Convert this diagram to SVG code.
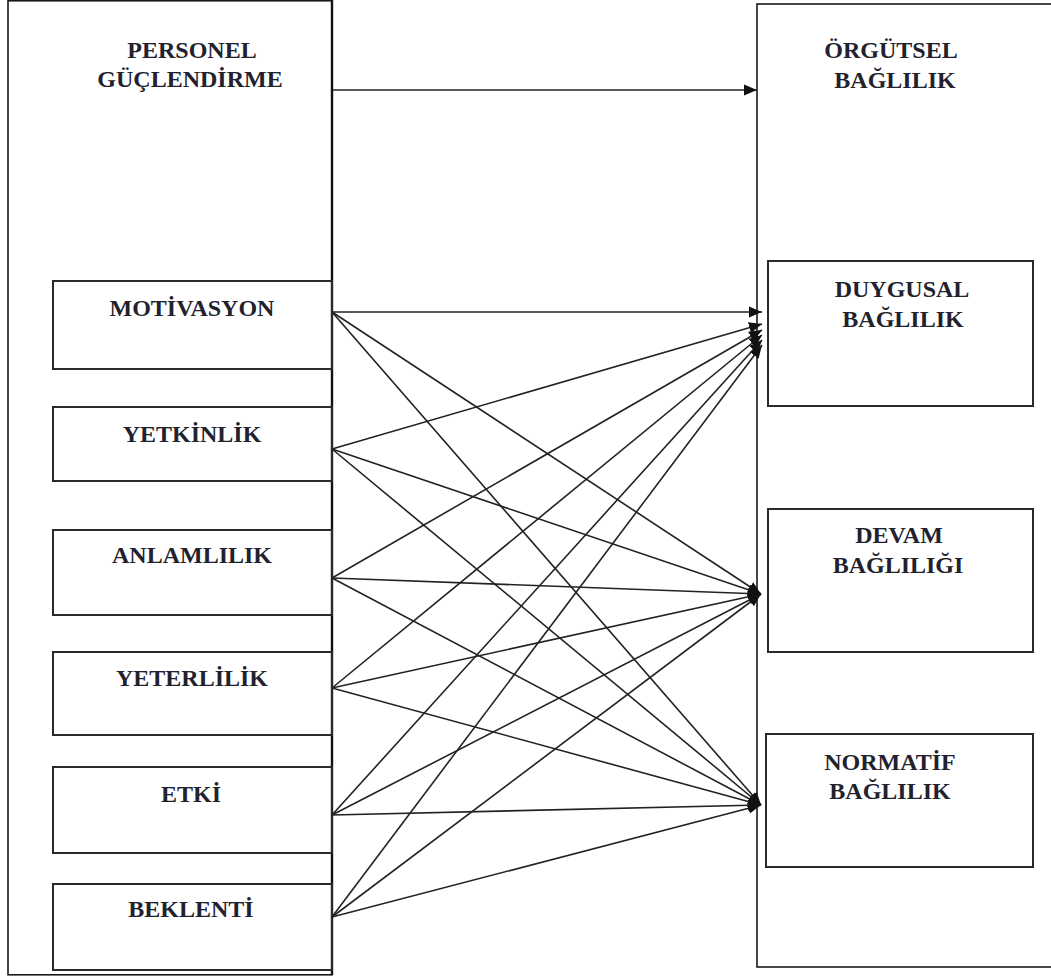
<svg xmlns="http://www.w3.org/2000/svg" width="1051" height="977" viewBox="0 0 1051 977">
<defs>
<style>
.box{fill:none;stroke:#2a2a2a;stroke-width:2}
.outer{fill:none;stroke:#1a1a1a;stroke-width:1.6}
.lbl{font-family:"Liberation Serif","Times New Roman",serif;font-size:24px;font-weight:bold;fill:#22222e;text-anchor:middle}
.conn line{stroke:#222;stroke-width:1.6;marker-end:url(#ah)}
</style>
<marker id="ah" markerUnits="userSpaceOnUse" markerWidth="16" markerHeight="12" refX="13" refY="6" orient="auto">
<path d="M0,0.5 L13,6 L0,11.5 z" fill="#111"/>
</marker>
</defs>
<rect width="1051" height="977" fill="#fff"/>
<g id="personel-guclendirme">
<rect class="outer" x="8" y="0.8" width="324" height="974"/>
<line x1="332" y1="0" x2="332" y2="975" stroke="#111" stroke-width="2.4"/>
<text class="lbl" x="192" y="58">PERSONEL</text>
<text class="lbl" x="190" y="87">GÜÇLENDİRME</text>
</g>
<g id="orgutsel-baglilik">
<rect class="outer" x="757" y="4" width="310" height="963"/>
<text class="lbl" x="891" y="58">ÖRGÜTSEL</text>
<text class="lbl" x="895" y="88">BAĞLILIK</text>
</g>
<g id="motivasyon">
<rect class="box" x="53" y="281" width="279" height="88"/>
<text class="lbl" x="192" y="316">MOTİVASYON</text>
</g>
<g id="yetkinlik">
<rect class="box" x="53" y="407" width="279" height="74"/>
<text class="lbl" x="192" y="442">YETKİNLİK</text>
</g>
<g id="anlamlilik">
<rect class="box" x="53" y="530" width="279" height="85"/>
<text class="lbl" x="192" y="563">ANLAMLILIK</text>
</g>
<g id="yeterlilik">
<rect class="box" x="53" y="652" width="279" height="83"/>
<text class="lbl" x="192" y="686">YETERLİLİK</text>
</g>
<g id="etki">
<rect class="box" x="53" y="767" width="279" height="86"/>
<text class="lbl" x="191" y="802">ETKİ</text>
</g>
<g id="beklenti">
<rect class="box" x="53" y="884" width="279" height="86"/>
<text class="lbl" x="191" y="917">BEKLENTİ</text>
</g>
<g id="duygusal">
<rect class="box" x="768" y="261" width="265" height="145"/>
<text class="lbl" x="902" y="297">DUYGUSAL</text>
<text class="lbl" x="903" y="327">BAĞLILIK</text>
</g>
<g id="devam">
<rect class="box" x="768" y="509" width="265" height="143"/>
<text class="lbl" x="899" y="543">DEVAM</text>
<text class="lbl" x="898" y="573">BAĞLILIĞI</text>
</g>
<g id="normatif">
<rect class="box" x="766" y="734" width="267" height="133"/>
<text class="lbl" x="890" y="770">NORMATİF</text>
<text class="lbl" x="890" y="799">BAĞLILIK</text>
</g>
<g id="connectors" class="conn">
<line x1="333" y1="90" x2="757" y2="90"/>
<line x1="332" y1="312" x2="762" y2="312"/>
<line x1="332" y1="312" x2="761" y2="594"/>
<line x1="332" y1="312" x2="761" y2="805"/>
<line x1="332" y1="449" x2="762" y2="324"/>
<line x1="332" y1="449" x2="761" y2="594"/>
<line x1="332" y1="449" x2="761" y2="805"/>
<line x1="332" y1="578" x2="762" y2="330"/>
<line x1="332" y1="578" x2="761" y2="594"/>
<line x1="332" y1="578" x2="761" y2="805"/>
<line x1="332" y1="688" x2="762" y2="335"/>
<line x1="332" y1="688" x2="761" y2="594"/>
<line x1="332" y1="688" x2="761" y2="805"/>
<line x1="332" y1="815" x2="762" y2="340"/>
<line x1="332" y1="815" x2="761" y2="594"/>
<line x1="332" y1="815" x2="761" y2="805"/>
<line x1="332" y1="917" x2="762" y2="345"/>
<line x1="332" y1="917" x2="761" y2="594"/>
<line x1="332" y1="917" x2="761" y2="805"/>
</g>
</svg>
